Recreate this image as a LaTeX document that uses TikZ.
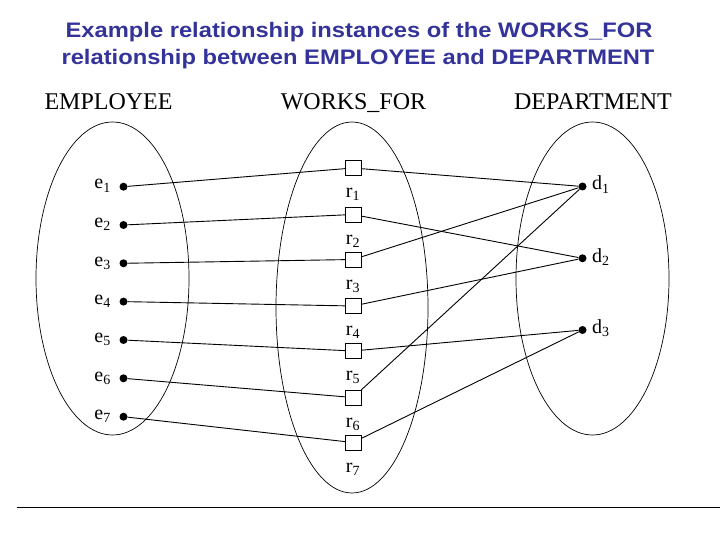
\documentclass[tikz,border=0pt]{standalone}
\usepackage{fontspec}
\setmainfont{Liberation Serif}
\newfontfamily\titlefont{Liberation Sans}[FakeStretch=1.13]
\definecolor{titleblue}{RGB}{51,51,153}

\begin{document}
\begin{tikzpicture}[x=1pt, y=-1pt,
		dotnode/.style={circle, fill, inner sep=0pt, minimum size=8pt},
		relbox/.style={draw, fill=white, inner sep=0pt, minimum width=16pt, minimum height=15pt},
		lbl/.style={inner sep=0pt, font=\fontsize{20}{22}\selectfont},
		headtext/.style={anchor=base, inner sep=0pt, font=\fontsize{24}{26}\selectfont},
		titletext/.style={anchor=base, inner sep=0pt, text=titleblue, font=\titlefont\bfseries\fontsize{21}{24}\selectfont},
		link/.style={line width=0.9pt},
		setline/.style={line width=0.7pt}]
				\useasboundingbox (0, 0) rectangle (720, 540);
				\node[titletext] (title1) at (359, 38) {Example relationship instances of the WORKS\_FOR};
				\node[titletext] (title2) at (358, 65) {relationship between EMPLOYEE and DEPARTMENT};
				\node[headtext] (hemp) at (108.5, 110) {EMPLOYEE};
				\node[headtext] (hwf) at (353.5, 110) {WORKS\_FOR};
				\node[headtext] (hdep) at (593, 110) {DEPARTMENT};
				\draw[setline] (112.5, 278.5) ellipse [x radius=76.5pt, y radius=156.5pt];
				\draw[setline] (352, 307.5) ellipse [x radius=76pt, y radius=185.5pt];
				\draw[setline] (592.5, 278.5) ellipse [x radius=76.5pt, y radius=156.5pt];
				\node[dotnode] (e1) at (123.5, 186.7) {};
				\node[dotnode] (e2) at (123.5, 225) {};
				\node[dotnode] (e3) at (123.5, 263.3) {};
				\node[dotnode] (e4) at (123.5, 301.6) {};
				\node[dotnode] (e5) at (123.5, 340) {};
				\node[dotnode] (e6) at (123.5, 378.3) {};
				\node[dotnode] (e7) at (123.5, 416.7) {};
				\node[lbl, anchor=base east] (le1) at (111, 189) {e\textsubscript{1}};
				\node[lbl, anchor=base east] (le2) at (111, 227.5) {e\textsubscript{2}};
				\node[lbl, anchor=base east] (le3) at (111, 266) {e\textsubscript{3}};
				\node[lbl, anchor=base east] (le4) at (111, 304) {e\textsubscript{4}};
				\node[lbl, anchor=base east] (le5) at (111, 342.5) {e\textsubscript{5}};
				\node[lbl, anchor=base east] (le6) at (111, 381) {e\textsubscript{6}};
				\node[lbl, anchor=base east] (le7) at (111, 419) {e\textsubscript{7}};
				\node[relbox] (r1) at (353, 168) {};
				\node[relbox] (r2) at (353, 214.5) {};
				\node[relbox] (r3) at (353, 259.5) {};
				\node[relbox] (r4) at (353, 306) {};
				\node[relbox] (r5) at (353, 351) {};
				\node[relbox] (r6) at (353, 397.5) {};
				\node[relbox] (r7) at (353, 442.5) {};
				\node[lbl, anchor=base] (lr1) at (353, 197.5) {r\textsubscript{1}};
				\node[lbl, anchor=base] (lr2) at (353, 244) {r\textsubscript{2}};
				\node[lbl, anchor=base] (lr3) at (353, 289) {r\textsubscript{3}};
				\node[lbl, anchor=base] (lr4) at (353, 335.5) {r\textsubscript{4}};
				\node[lbl, anchor=base] (lr5) at (353, 380.5) {r\textsubscript{5}};
				\node[lbl, anchor=base] (lr6) at (353, 427) {r\textsubscript{6}};
				\node[lbl, anchor=base] (lr7) at (353, 472) {r\textsubscript{7}};
				\node[dotnode] (d1) at (582.5, 186.5) {};
				\node[dotnode] (d2) at (582.5, 258.3) {};
				\node[dotnode] (d3) at (582.5, 330) {};
				\node[lbl, anchor=base west] (ld1) at (592, 190) {d\textsubscript{1}};
				\node[lbl, anchor=base west] (ld2) at (592, 262) {d\textsubscript{2}};
				\node[lbl, anchor=base west] (ld3) at (592, 333.5) {d\textsubscript{3}};
				\draw[link] (e1) -- (r1);
				\draw[link] (e2) -- (r2);
				\draw[link] (e3) -- (r3);
				\draw[link] (e4) -- (r4);
				\draw[link] (e5) -- (r5);
				\draw[link] (e6) -- (r6);
				\draw[link] (e7) -- (r7);
				\draw[link] (r1) -- (d1);
				\draw[link] (r2) -- (d2);
				\draw[link] (r3) -- (d1);
				\draw[link] (r4) -- (d2);
				\draw[link] (r5) -- (d3);
				\draw[link] (r6) -- (d1);
				\draw[link] (r7) -- (d3);
				\draw[link] (17, 507.5) -- (720, 507.5);
			\end{tikzpicture}
\end{document}
